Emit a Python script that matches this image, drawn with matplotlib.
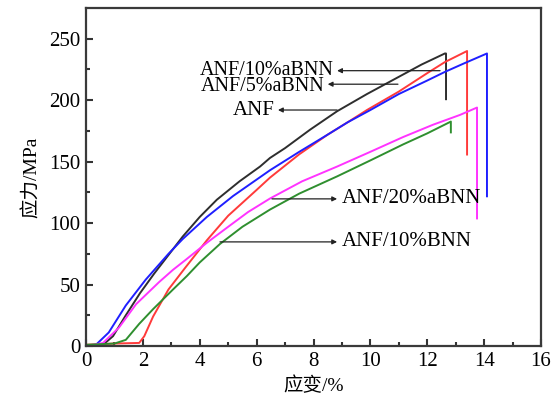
import matplotlib
matplotlib.use("Agg")
import matplotlib.pyplot as plt

# ---- data (strain %, stress MPa) ----
anf_x = [0, 0.6, 0.95, 1.4, 1.9, 2.4, 2.8, 3.4, 4.0, 4.6, 5.4, 6.12, 6.47, 7.0, 7.88, 8.83, 9.88, 11.0, 11.8, 12.62, 12.66, 12.66]
anf_y = [0, 1, 8, 25, 43, 59, 71, 89, 105, 119, 134, 146, 153, 161, 176, 191, 205, 219, 229, 238, 238, 200]

bnn5_x = [0, 0.35, 0.8, 1.4, 2.1, 2.9, 3.4, 4.25, 5.17, 6.47, 7.5, 8.5, 9.2, 10.0, 11.0, 12.0, 12.62, 13.3, 14.1, 14.1]
bnn5_y = [0, 1, 11, 33, 54, 75, 87, 105, 122, 143, 158, 172, 182, 192, 205, 216, 223, 230, 238, 121]

bnn10a_x = [0, 1.0, 1.87, 2.05, 2.36, 2.9, 3.5, 4.25, 5.0, 6.0, 6.47, 7.5, 8.5, 9.2, 9.88, 11.0, 12.0, 12.62, 13.4, 13.4]
bnn10a_y = [1, 2, 2.5, 8, 24, 46, 64, 86, 106, 127, 137, 156, 172, 182, 192, 207, 222, 231, 240, 155]

bnn20_x = [0, 0.6, 1.16, 1.76, 2.57, 3.06, 3.5, 4.25, 5.0, 5.7, 6.47, 7.6, 8.83, 10.0, 11.15, 12.2, 13.15, 13.75, 13.75]
bnn20_y = [0, 2.5, 15, 34, 52, 62, 70, 84, 97, 109, 120, 134, 146, 158, 170, 180, 188, 194, 103]

bnn10_x = [0, 1.0, 1.4, 1.87, 2.36, 3.06, 3.55, 4.0, 4.71, 5.5, 6.47, 7.5, 8.83, 10.0, 11.15, 12.0, 12.83, 12.83]
bnn10_y = [1, 2, 5, 18, 30, 46, 57, 68, 83, 97, 111, 124, 138, 151, 164, 173, 182.6, 173]

xticks = [0, 2, 4, 6, 8, 10, 12, 14, 16]
yticks = [0, 50, 100, 150, 200, 250]

plt.rcParams['font.family'] = ['Liberation Serif', 'Noto Sans CJK SC']
plt.rcParams['mathtext.default'] = 'regular'

fig = plt.figure(figsize=(5.6, 4.0), dpi=100)
ax = fig.add_axes([86/560, 54/400, 455/560, 338/400])

lw = 1.4
common = dict(lw=lw, solid_joinstyle='round', solid_capstyle='butt')
ax.plot(anf_x, anf_y, color='#2e2e2e', **common)
ax.plot(bnn10a_x, bnn10a_y, color='#ff3a3a', **common)
ax.plot(bnn5_x, bnn5_y, color='#1f1fff', **common)
ax.plot(bnn20_x, bnn20_y, color='#ff33ff', **common)
ax.plot(bnn10_x, bnn10_y, color='#2f8f2f', **common)

ax.set_xlim(0, 16)
ax.set_ylim(0, 275)
ax.set_xticks(xticks)
ax.set_yticks(yticks)
ax.set_xticks([1, 3, 5, 7, 9, 11, 13, 15], minor=True)
ax.set_yticks([25, 75, 125, 175, 225], minor=True)
ax.tick_params(which='both', direction='in', top=False, right=False,
               color='#333333', width=1.5)
ax.tick_params(which='major', length=5, labelsize=15, pad=4)
ax.tick_params(which='minor', length=3)
for s in ax.spines.values():
    s.set_linewidth(1.6)
    s.set_color('#3a3a3a')

ax.set_xlabel('应变/%', fontsize=14, labelpad=4)
ax.set_ylabel('应力/MPa', fontsize=14, labelpad=6)

ap = dict(arrowstyle='-|>', lw=0.9, color='#222222', mutation_scale=7,
          shrinkA=0, shrinkB=0)
fs = 15
# left-pointing labels
ax.annotate('', xy=(8.83, 224), xytext=(12.45, 224), arrowprops=ap)
ax.text(8.72, 224.5, 'ANF/10%aBNN', fontsize=14.5, ha='right', va='center')
ax.annotate('', xy=(8.5, 213), xytext=(10.97, 213), arrowprops=ap)
ax.text(8.38, 211.5, 'ANF/5%aBNN', fontsize=14.5, ha='right', va='center')
ax.annotate('', xy=(6.75, 192), xytext=(8.83, 192), arrowprops=ap)
ax.text(6.65, 191.5, 'ANF', fontsize=fs, ha='right', va='center')
# right-pointing labels
ax.annotate('', xy=(8.83, 119.7), xytext=(6.54, 119.7), arrowprops=ap)
ax.text(8.98, 119.7, 'ANF/20%aBNN', fontsize=fs, ha='left', va='center')
ax.annotate('', xy=(8.83, 84.7), xytext=(4.71, 84.7), arrowprops=ap)
ax.text(8.98, 84.7, 'ANF/10%BNN', fontsize=fs, ha='left', va='center')

fig.savefig('out.png', dpi=100)
